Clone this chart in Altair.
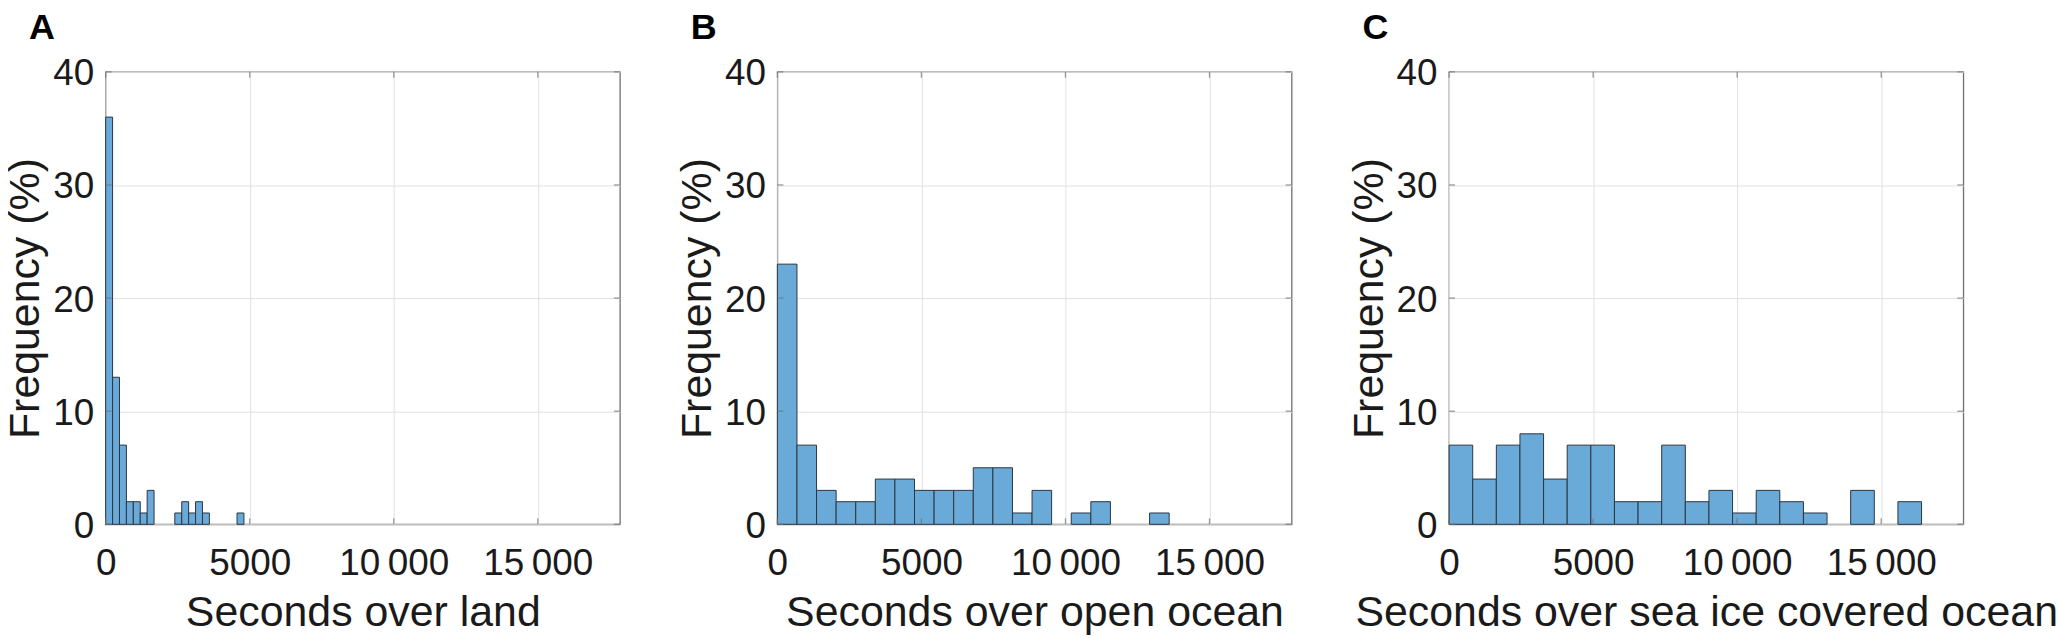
import altair as alt
import pandas as pd

# ---- data (percent per bin) ----
land_freq = [36, 13, 7, 2, 2, 1, 3, 0, 0, 0, 1, 2, 1, 2, 1, 0, 0, 0, 0, 1]
land_bin_width = 240
ocean_freq = [23, 7, 3, 2, 2, 4, 4, 3, 3, 3, 5, 5, 1, 3, 0, 1, 2, 0, 0, 1]
ocean_bin_width = 680
ice_freq = [7, 4, 7, 8, 4, 7, 7, 2, 2, 7, 2, 3, 1, 3, 2, 1, 0, 3, 0, 2]
ice_bin_width = 820

panel_letters = ["A", "B", "C"]
x_titles = ["Seconds over land", "Seconds over open ocean",
            "Seconds over sea ice covered ocean"]
y_title = "Frequency (%)"
x_ticks = [0, 5000, 10000, 15000]
y_ticks = [0, 10, 20, 30, 40]
x_domain = [0, 17850]
y_domain = [0, 40]

# ---- style ----
W, H = 516, 454
FONT = "Liberation Sans"
TEXT = "#1a1a1a"
BAR = "#6aaad9"
EDGE = "#2c3540"
GRID = "#e1e1e1"
FRAME = "#707070"
LABEL_EXPR = ("datum.value >= 10000 ? replace(format(datum.value, ','), ',', '\u2009')"
              " : format(datum.value, 'd')")


def panel(freqs, bw, letter, xtitle, letter_dx):
    df = pd.DataFrame({
        "start": [i * bw for i in range(len(freqs))],
        "end": [(i + 1) * bw for i in range(len(freqs))],
        "freq": freqs,
    })
    xs = alt.Scale(domain=x_domain, nice=False, zero=False)
    ys = alt.Scale(domain=y_domain, nice=False)

    bars = alt.Chart(df).mark_bar(color=BAR, stroke=EDGE, strokeWidth=1).transform_filter(
        "datum.freq > 0"
    ).encode(
        x=alt.X("start:Q", scale=xs, axis=alt.Axis(
            values=x_ticks, labelExpr=LABEL_EXPR, grid=True, gridColor=GRID,
            ticks=False, domain=False, labelFlush=False, labelOverlap=False,
            labelFont=FONT, labelFontSize=37, labelColor=TEXT, labelPadding=21,
            title=xtitle, titleFont=FONT, titleFontSize=43, titleFontWeight="normal",
            titleColor=TEXT, titleBaseline="alphabetic", titleY=102)),
        x2="end:Q",
        y=alt.Y("freq:Q", scale=ys, axis=alt.Axis(
            values=y_ticks, grid=True, gridColor=GRID, ticks=False, domain=False,
            labelOverlap=False, labelFont=FONT, labelFontSize=37, labelColor=TEXT,
            labelPadding=12, labelBaseline="middle", labelOffset=2,
            title=y_title, titleFont=FONT, titleFontSize=43, titleFontWeight="normal",
            titleColor=TEXT, titleBaseline="alphabetic", titleX=-67, titleY=H / 2)),
        y2=alt.Y2(datum=0),
    )

    xt = pd.DataFrame({"v": x_ticks})
    yt = pd.DataFrame({"v": y_ticks})
    tick_style = dict(color=FRAME, thickness=1.3, size=6)
    bottom_ticks = alt.Chart(xt).mark_tick(orient="vertical", **tick_style).encode(
        x=alt.X("v:Q", scale=xs), y=alt.Y(datum=y_domain[0], scale=ys),
        yOffset=alt.value(-3))
    top_ticks = alt.Chart(xt).mark_tick(orient="vertical", **tick_style).encode(
        x=alt.X("v:Q", scale=xs), y=alt.Y(datum=y_domain[1], scale=ys),
        yOffset=alt.value(3))
    left_ticks = alt.Chart(yt).mark_tick(orient="horizontal", **tick_style).encode(
        y=alt.Y("v:Q", scale=ys), x=alt.X(datum=x_domain[0], scale=xs),
        xOffset=alt.value(3))
    right_ticks = alt.Chart(yt).mark_tick(orient="horizontal", **tick_style).encode(
        y=alt.Y("v:Q", scale=ys), x=alt.X(datum=x_domain[1], scale=xs),
        xOffset=alt.value(-3))

    return alt.layer(bars, bottom_ticks, top_ticks, left_ticks, right_ticks).properties(
        width=W, height=H,
        title=alt.TitleParams(letter, anchor="start", frame="group", dx=letter_dx,
                              offset=-20, baseline="alphabetic", font=FONT,
                              fontSize=36, fontWeight="bold", color="#000000"),
    )


pA = panel(land_freq, land_bin_width, panel_letters[0], x_titles[0], -77)
pB = panel(ocean_freq, ocean_bin_width, panel_letters[1], x_titles[1], -87)
pC = panel(ice_freq, ice_bin_width, panel_letters[2], x_titles[2], -87)

chart = alt.hconcat(pA, pB, pC, spacing=158, bounds="flush").configure_view(
    stroke=FRAME, strokeWidth=1.3
).properties(
    padding={"left": -4, "top": 0, "right": 0, "bottom": 0},
    background="white",
)

chart.save("out.html", embed_options={"renderer": "svg", "actions": False})
